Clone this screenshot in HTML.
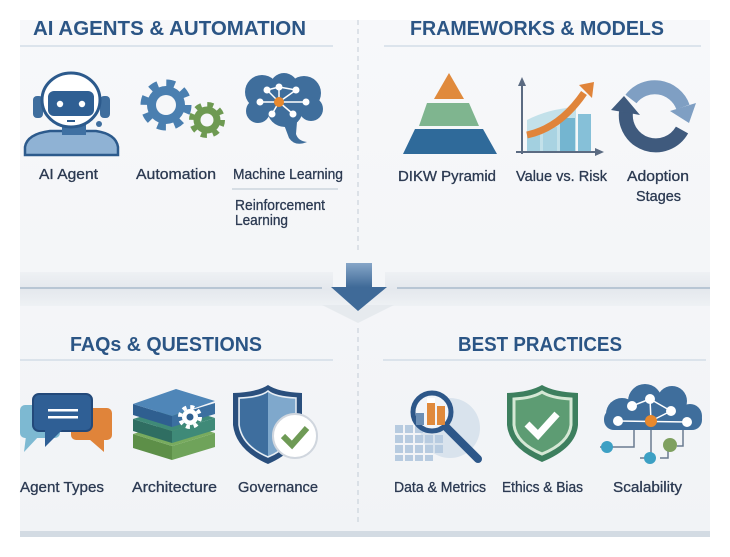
<!DOCTYPE html>
<html><head><meta charset="utf-8"><style>
html,body{margin:0;padding:0;background:#fff;}
svg{display:block;}
.h{font-family:"Liberation Sans",sans-serif;font-weight:bold;font-size:20px;fill:#2b5585;}
.l{font-family:"Liberation Sans",sans-serif;font-size:14.5px;fill:#2c3a52;stroke:#2c3a52;stroke-width:0.3px;}
</style></head><body>
<svg width="730" height="557" viewBox="0 0 730 557" xmlns="http://www.w3.org/2000/svg">
<defs>
<linearGradient id="pg" x1="0" y1="0" x2="0" y2="1"><stop offset="0" stop-color="#f7f8fa"/><stop offset="1" stop-color="#f1f3f6"/></linearGradient>
<linearGradient id="band" x1="0" y1="0" x2="0" y2="1"><stop offset="0" stop-color="#eef1f4"/><stop offset="0.5" stop-color="#e4e8ed"/><stop offset="1" stop-color="#eef1f4"/></linearGradient>
<linearGradient id="arr" x1="0" y1="0" x2="0" y2="1"><stop offset="0" stop-color="#86a6c8"/><stop offset="1" stop-color="#3d6896"/></linearGradient>
</defs>
<rect x="0" y="0" width="730" height="557" fill="#fff"/>
<rect x="20" y="20" width="690" height="517" fill="url(#pg)"/>
<!-- middle band -->
<rect x="20" y="272" width="690" height="34" fill="url(#band)"/>
<line x1="20" y1="288" x2="322" y2="288" stroke="#a9bacb" stroke-width="1.5"/>
<line x1="397" y1="288" x2="710" y2="288" stroke="#a9bacb" stroke-width="1.5"/>
<rect x="333" y="262" width="52" height="26" fill="#f4f6f8"/>
<polygon points="322,305 394,305 358,323" fill="#e6eaee"/>
<rect x="346" y="263" width="26" height="25" fill="url(#arr)"/>
<polygon points="331,287 387,287 358,311" fill="#3f6a98"/>
<!-- bottom edge -->
<rect x="20" y="531" width="690" height="6" fill="#d3dbe3"/>
<!-- dashed divider -->
<line x1="358" y1="20" x2="358" y2="252" stroke="#c3ccd6" stroke-width="1" stroke-dasharray="5,4"/>
<line x1="358" y1="328" x2="358" y2="522" stroke="#c3ccd6" stroke-width="1" stroke-dasharray="5,4"/>

<!-- headings -->
<text class="h" x="33" y="35" textLength="273" lengthAdjust="spacingAndGlyphs">AI AGENTS &amp; AUTOMATION</text>
<text class="h" x="410" y="35" textLength="254" lengthAdjust="spacingAndGlyphs">FRAMEWORKS &amp; MODELS</text>
<text class="h" x="70" y="351" textLength="192" lengthAdjust="spacingAndGlyphs">FAQs &amp; QUESTIONS</text>
<text class="h" x="458" y="351" textLength="164" lengthAdjust="spacingAndGlyphs">BEST PRACTICES</text>
<line x1="20" y1="46" x2="333" y2="46" stroke="#d3dde7" stroke-width="1.5"/>
<line x1="384" y1="46" x2="701" y2="46" stroke="#d3dde7" stroke-width="1.5"/>
<line x1="20" y1="360" x2="333" y2="360" stroke="#d3dde7" stroke-width="1.5"/>
<line x1="383" y1="360" x2="706" y2="360" stroke="#d3dde7" stroke-width="1.5"/>

<!-- robot -->
<path d="M25,155 L25,147 Q27,134 50,131 L96,131 Q116,134 118,147 L118,155 Z" fill="#8fb2d4" stroke="#2c5a8c" stroke-width="2.5"/>
<rect x="62" y="122" width="24" height="13" fill="#3f70a2"/>
<rect x="33" y="96" width="10" height="22" rx="4" fill="#3f6e9e"/>
<rect x="100" y="96" width="10" height="22" rx="4" fill="#3f6e9e"/>
<ellipse cx="71" cy="100" rx="29" ry="27" fill="#fff" stroke="#2c5a8c" stroke-width="3"/>
<rect x="48" y="91" width="46" height="25" rx="6" fill="#2f5f93"/>
<circle cx="60" cy="104" r="3.2" fill="#fff"/>
<circle cx="82" cy="104" r="3.2" fill="#fff"/>
<rect x="67" y="120" width="8" height="2" fill="#2c5a8c"/>
<circle cx="99" cy="124" r="3" fill="#3f6e9e"/>

<!-- gears -->
<circle cx="166" cy="105" r="19" fill="#4a7fb0"/>
<circle cx="166" cy="105" r="22" fill="none" stroke="#4a7fb0" stroke-width="7" stroke-dasharray="8.6,8.7"/>
<circle cx="166" cy="105" r="10" fill="#f6f7f9"/>
<circle cx="207" cy="120" r="16" fill="none" stroke="#f6f7f9" stroke-width="3"/>
<circle cx="207" cy="120" r="13.5" fill="#6e9a52"/>
<circle cx="207" cy="120" r="15.5" fill="none" stroke="#6e9a52" stroke-width="5" stroke-dasharray="6.1,6.1"/>
<circle cx="207" cy="120" r="6.5" fill="#f6f7f9"/>

<!-- brain -->
<g fill="#3f6e9c">
<circle cx="262" cy="92" r="17"/><circle cx="284" cy="87" r="14"/><circle cx="304" cy="93" r="17"/>
<circle cx="311" cy="109" r="12"/><circle cx="258" cy="111" r="12"/><circle cx="285" cy="109" r="18"/>
<path d="M283,122 L297,122 L296,134 Q298,141 307,142 Q295,147 289,138 Z"/>
</g>
<g stroke="#fff" stroke-width="1.5">
<line x1="279" y1="102" x2="267" y2="90"/><line x1="279" y1="102" x2="279" y2="87"/><line x1="279" y1="102" x2="296" y2="90"/>
<line x1="279" y1="102" x2="260" y2="102"/><line x1="279" y1="102" x2="306" y2="102"/><line x1="279" y1="102" x2="272" y2="114"/>
<line x1="279" y1="102" x2="293" y2="114"/><line x1="267" y1="90" x2="279" y2="87"/><line x1="279" y1="87" x2="296" y2="90"/>
</g>
<g fill="#fff"><circle cx="267" cy="90" r="3.5"/><circle cx="279" cy="87" r="3.5"/><circle cx="296" cy="90" r="3.5"/><circle cx="260" cy="102" r="3.5"/><circle cx="306" cy="102" r="3.5"/><circle cx="272" cy="114" r="3.5"/><circle cx="293" cy="114" r="3.5"/></g>
<circle cx="279" cy="102" r="5" fill="#e8892e"/>

<!-- row1 labels -->
<text class="l" x="39" y="179" textLength="59" lengthAdjust="spacingAndGlyphs">AI Agent</text>
<text class="l" x="136" y="179" textLength="80" lengthAdjust="spacingAndGlyphs">Automation</text>
<text class="l" x="233" y="179" textLength="110" lengthAdjust="spacingAndGlyphs">Machine Learning</text>
<line x1="232" y1="189" x2="338" y2="189" stroke="#b8c4d0" stroke-width="1"/>
<text class="l" x="235" y="210" textLength="90" lengthAdjust="spacingAndGlyphs">Reinforcement</text>
<text class="l" x="235" y="225" textLength="53" lengthAdjust="spacingAndGlyphs">Learning</text>

<!-- pyramid -->
<polygon points="449,73 464,99 434,99" fill="#e08a3c"/>
<polygon points="427,103 469,103 479,126 419,126" fill="#7fb58f"/>
<polygon points="415,129 483,129 497,154 403,154" fill="#2f6a9a"/>

<!-- chart -->
<path d="M527,152 L527,120 Q548,109 576,107 L576,152 Z" fill="#c3e1ea"/>
<rect x="527" y="134" width="13" height="18" fill="#a3d0e0"/>
<rect x="543" y="127" width="14" height="25" fill="#a9d3e2"/>
<rect x="560" y="118" width="15" height="34" fill="#74b5d0"/>
<rect x="578" y="114" width="13" height="38" fill="#86c0d8"/>
<path d="M527,135 Q560,128 584,93" fill="none" stroke="#e0843a" stroke-width="7"/>
<polygon points="594,82 579,85 592,98" fill="#e0843a"/>
<line x1="522" y1="82" x2="522" y2="154" stroke="#5b6b82" stroke-width="2"/>
<line x1="516" y1="152" x2="598" y2="152" stroke="#5b6b82" stroke-width="2"/>
<polygon points="522,77 518,86 526,86" fill="#5b6b82"/>
<polygon points="604,152 595,148 595,156" fill="#5b6b82"/>

<!-- cycle -->
<path d="M631,99 A30 30 0 0 1 683,107" fill="none" stroke="#7f9fc3" stroke-width="14"/>
<polygon points="696,103 670,111 689,123" fill="#7f9fc3"/>
<path d="M682,130 A30 30 0 0 1 626,112" fill="none" stroke="#3f5a7d" stroke-width="14"/>
<polygon points="611,110 640,115 624,96" fill="#3f5a7d"/>

<!-- row1 right labels -->
<text class="l" x="398" y="181" textLength="98" lengthAdjust="spacingAndGlyphs">DIKW Pyramid</text>
<text class="l" x="516" y="181" textLength="91" lengthAdjust="spacingAndGlyphs">Value vs. Risk</text>
<text class="l" x="627" y="181" textLength="62" lengthAdjust="spacingAndGlyphs">Adoption</text>
<text class="l" x="636" y="201" textLength="45" lengthAdjust="spacingAndGlyphs">Stages</text>

<!-- chat bubbles -->
<rect x="20" y="405" width="40" height="33" rx="5" fill="#7db9d2"/>
<polygon points="26,436 39,436 24,452" fill="#7db9d2"/>
<rect x="71" y="408" width="41" height="32" rx="5" fill="#e0843a"/>
<polygon points="89,439 104,439 104,452" fill="#e0843a"/>
<rect x="33" y="394" width="59" height="37" rx="6" fill="#2f5f95" stroke="#23497a" stroke-width="2"/>
<polygon points="45,430 62,430 45,447" fill="#2f5f95"/>
<rect x="48" y="409" width="30" height="2.5" fill="#fff"/>
<rect x="48" y="416" width="30" height="2.5" fill="#fff"/>

<!-- stack -->
<g>
<polygon points="133,434 172,446 172,460 133,448" fill="#5d8f48"/>
<polygon points="172,446 215,433 215,447 172,460" fill="#6fa35a"/>
<polygon points="133,434 176,421 215,433 172,446" fill="#78ab5e"/>
<polygon points="133,419 172,431 172,443 133,431" fill="#2f6e62"/>
<polygon points="172,431 215,418 215,430 172,443" fill="#3f8a78"/>
<polygon points="133,419 176,406 215,418 172,431" fill="#3f8a78"/>
<polygon points="133,404 172,416 172,427 133,415" fill="#2f5f90"/>
<polygon points="172,416 215,403 215,414 172,427" fill="#3b6fa0"/>
<polygon points="133,404 176,389 215,401 172,416" fill="#4f86b8"/>
<circle cx="190" cy="417" r="8" fill="#fff"/>
<circle cx="190" cy="417" r="10" fill="none" stroke="#fff" stroke-width="4" stroke-dasharray="4,3.85"/>
<circle cx="190" cy="417" r="3.5" fill="#2f5f90"/>
</g>

<!-- governance shield -->
<path d="M233,393 Q258,392 268,385 Q278,392 302,393 L302,425 Q300,450 268,464 Q236,450 233,425 Z" fill="#2a4f7d"/>
<path d="M239,398 Q261,397 268,391 Q275,397 296,398 L296,425 Q294,446 268,457 Q242,446 239,425 Z" fill="#7fa8cc" stroke="#e8eef4" stroke-width="1.5"/>
<path d="M240,399 Q261,398 268,392 L268,456 Q243,445 240,425 Z" fill="#3e6e9e"/>
<circle cx="295" cy="436" r="22" fill="#fff" stroke="#d0d6de" stroke-width="2"/>
<polyline points="283,436 292,445 307,428" fill="none" stroke="#6e9a55" stroke-width="6"/>

<!-- row2 left labels -->
<text class="l" x="20" y="492" textLength="84" lengthAdjust="spacingAndGlyphs">Agent Types</text>
<text class="l" x="132" y="492" textLength="85" lengthAdjust="spacingAndGlyphs">Architecture</text>
<text class="l" x="238" y="492" textLength="80" lengthAdjust="spacingAndGlyphs">Governance</text>

<!-- magnifier -->
<circle cx="450" cy="428" r="30" fill="#d9e3ed"/>
<g fill="#b7cbe0">
<rect x="395" y="425" width="8" height="8"/><rect x="405" y="425" width="8" height="8"/><rect x="415" y="425" width="8" height="8"/><rect x="425" y="425" width="8" height="8"/>
<rect x="395" y="435" width="8" height="8"/><rect x="405" y="435" width="8" height="8"/><rect x="415" y="435" width="8" height="8"/><rect x="425" y="435" width="8" height="8"/><rect x="435" y="435" width="8" height="8"/>
<rect x="395" y="445" width="8" height="8"/><rect x="405" y="445" width="8" height="8"/><rect x="415" y="445" width="8" height="8"/><rect x="425" y="445" width="8" height="8"/><rect x="435" y="445" width="8" height="8"/>
<rect x="395" y="455" width="8" height="6"/><rect x="405" y="455" width="8" height="6"/><rect x="415" y="455" width="8" height="6"/><rect x="425" y="455" width="8" height="6"/>
</g>
<circle cx="432" cy="412" r="19" fill="#f2f5f9" stroke="#2d5789" stroke-width="5"/>
<rect x="416" y="413" width="8" height="12" fill="#6c8fb5"/>
<rect x="427" y="403" width="8" height="22" fill="#e08a3c"/>
<rect x="427" y="398" width="8" height="5" fill="#fff"/>
<rect x="437" y="406" width="8" height="19" fill="#e08a3c"/>
<line x1="447" y1="428" x2="478" y2="459" stroke="#2d5789" stroke-width="8" stroke-linecap="round"/>

<!-- green shield -->
<path d="M507,393 Q530,392 542,385 Q554,392 578,393 L578,425 Q576,448 542,462 Q509,448 507,425 Z" fill="#3d7f5e"/>
<path d="M514,399 Q533,398 542,392 Q551,398 571,399 L571,425 Q569,443 542,454 Q516,443 514,425 Z" fill="#5d9c73" stroke="#d5e8d5" stroke-width="3"/>
<polyline points="527,424 538,435 557,414" fill="none" stroke="#fff" stroke-width="7"/>

<!-- cloud -->
<g fill="#3f6e9c">
<circle cx="622" cy="414" r="16"/><circle cx="645" cy="401" r="17"/><circle cx="672" cy="401" r="15"/><circle cx="690" cy="416" r="12"/>
<rect x="604" y="409" width="98" height="21" rx="10"/>
</g>
<g stroke="#fff" stroke-width="1.5">
<line x1="618" y1="421" x2="687" y2="422"/><line x1="632" y1="406" x2="650" y2="399"/><line x1="650" y1="399" x2="671" y2="411"/>
<line x1="650" y1="399" x2="651" y2="421"/><line x1="671" y1="411" x2="651" y2="421"/>
</g>
<g fill="#fff"><circle cx="632" cy="406" r="5"/><circle cx="650" cy="399" r="5"/><circle cx="671" cy="411" r="5"/><circle cx="618" cy="421" r="5"/><circle cx="687" cy="422" r="5"/></g>
<circle cx="651" cy="421" r="6" fill="#e8892e"/>
<g stroke="#6a7b90" stroke-width="1.5" fill="none">
<polyline points="634,430 634,447 600,447"/>
<polyline points="651,430 651,458 640,458"/>
<polyline points="660,458 668,458 668,450"/>
<polyline points="677,446 683,446 683,430"/>
</g>
<circle cx="607" cy="447" r="6" fill="#3da0c4"/>
<circle cx="650" cy="458" r="6" fill="#3da0c4"/>
<circle cx="670" cy="445" r="7" fill="#7fa060"/>

<!-- row2 right labels -->
<text class="l" x="394" y="492" textLength="92" lengthAdjust="spacingAndGlyphs">Data &amp; Metrics</text>
<text class="l" x="502" y="492" textLength="81" lengthAdjust="spacingAndGlyphs">Ethics &amp; Bias</text>
<text class="l" x="613" y="492" textLength="69" lengthAdjust="spacingAndGlyphs">Scalability</text>
</svg>
</body></html>
